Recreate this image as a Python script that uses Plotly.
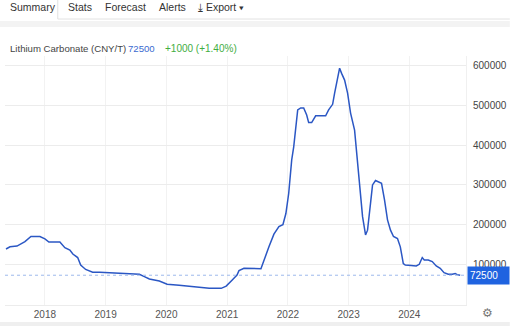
import plotly.graph_objects as go

dates = ["2017-05-12","2017-06-05","2017-07-17","2017-09-03","2017-10-09","2017-12-02","2018-01-01",
         "2018-01-25","2018-04-01","2018-05-01","2018-05-31","2018-06-18","2018-07-17","2018-08-04",
         "2018-09-03","2018-10-15","2018-11-26","2019-01-25","2019-03-14","2019-05-24","2019-07-23",
         "2019-08-22","2019-09-21","2019-11-20","2020-01-06","2020-03-18","2020-06-17","2020-09-15",
         "2020-11-26","2020-12-26","2021-01-30","2021-03-01","2021-03-13","2021-04-12","2021-07-23",
         "2021-08-10","2021-09-09","2021-10-09","2021-11-08","2021-12-02","2021-12-20","2022-01-06",
         "2022-01-24","2022-02-05","2022-02-17","2022-03-01","2022-03-19","2022-04-06","2022-04-24",
         "2022-05-06","2022-05-24","2022-06-17","2022-07-05","2022-08-16","2022-09-03","2022-09-27",
         "2022-10-09","2022-10-27","2022-11-08","2022-11-20","2022-12-08","2022-12-26","2023-01-13",
         "2023-02-06","2023-02-18","2023-03-08","2023-03-26","2023-04-13","2023-04-25","2023-05-13",
         "2023-05-25","2023-06-12","2023-06-30","2023-07-18","2023-08-05","2023-08-23","2023-09-10",
         "2023-09-28","2023-10-22","2023-11-08","2023-11-26","2023-12-08","2024-01-12","2024-02-12",
         "2024-03-01","2024-03-13","2024-03-19","2024-03-31","2024-04-24","2024-05-18","2024-06-11",
         "2024-07-05","2024-07-28","2024-08-22","2024-09-15","2024-10-03","2024-10-15","2024-11-02"]
prices = [138500,144000,146000,157000,170000,170000,164000,
          156000,156000,142000,136000,126000,117000,98000,
          87000,80000,80000,79000,77000,76000,75000,
          69000,63000,58000,50000,47000,43000,39500,
          39500,45000,60000,73000,84000,90000,89000,
          111000,144000,176000,195000,200000,228000,279000,
          363000,396000,447000,489000,494000,494000,476000,
          457000,457000,474000,474000,474000,489000,503000,
          531000,564000,594000,581000,564000,531000,481000,
          438000,380000,295000,220000,174000,186000,254000,
          300000,311000,308000,304000,262000,212000,186000,
          170000,165000,144000,102000,98000,97000,96000,
          100000,115000,117000,111000,111000,107000,96000,
          90000,79000,75000,75000,77000,74000,72500]

y_ticks = [100000, 200000, 300000, 400000, 500000, 600000]
last_value = 72500
title_name = "Lithium Carbonate (CNY/T)"
title_value = "72500"
title_change = "+1000 (+1.40%)"
tabs = ["Summary", "Stats", "Forecast", "Alerts", "⤓ Export ▾"]
tab_x = [8, 66, 103, 158, 197]

W, H = 512, 326
L, R, T, B = 5, 44, 56, 21
PW, PH = W - L - R, H - T - B

def px(x):
    return (x - L) / PW

def py(y):
    return (H - B - y) / PH

FONT = "Liberation Sans, Arial, sans-serif"

fig = go.Figure()
fig.add_trace(go.Scatter(x=dates, y=prices, mode="lines",
                         line=dict(color="#2b57c4", width=1.5), hoverinfo="skip"))

fig.add_shape(type="line", xref="paper", yref="y", x0=0, x1=1, y0=last_value, y1=last_value,
              line=dict(color="#9db9ec", width=1, dash="dot"))

annotations = []
# title
annotations.append(dict(x=px(8), y=py(48), xref="paper", yref="paper", xanchor="left", yanchor="middle",
                        showarrow=False, text=title_name, font=dict(family=FONT, size=9.6, color="#444")))
annotations.append(dict(x=px(127), y=py(48), xref="paper", yref="paper", xanchor="left", yanchor="middle",
                        showarrow=False, text=title_value, font=dict(family=FONT, size=9.6, color="#3a6ad0")))
annotations.append(dict(x=px(164), y=py(48), xref="paper", yref="paper", xanchor="left", yanchor="middle",
                        showarrow=False, text=title_change, font=dict(family=FONT, size=10, color="#3fae3f")))
# tabs
for t, x in zip(tabs, tab_x):
    annotations.append(dict(x=px(x), y=py(7), xref="paper", yref="paper", xanchor="left", yanchor="middle",
                            showarrow=False, text=t, font=dict(family=FONT, size=10.5, color="#333")))
# last value box
annotations.append(dict(x=px(469), y=last_value, xref="paper", yref="y", xanchor="left", yanchor="middle",
                        showarrow=False, text=str(last_value), align="left", width=37, height=13,
                        bgcolor="#1f63e0", borderpad=2,
                        font=dict(family=FONT, size=10, color="white")))
# gear
annotations.append(dict(x=px(490), y=py(313), xref="paper", yref="paper", xanchor="center", yanchor="middle",
                        showarrow=False, text="⚙", font=dict(family="DejaVu Sans", size=12, color="#777")))

shapes = [
    # tab borders
    dict(type="line", xref="paper", yref="paper", x0=px(58), x1=px(58), y0=py(0), y1=py(19),
         line=dict(color="#e2e2e2", width=1)),
    dict(type="line", xref="paper", yref="paper", x0=px(58), x1=px(512), y0=py(19), y1=py(19),
         line=dict(color="#e2e2e2", width=1)),
    dict(type="rect", xref="paper", yref="paper", x0=px(0), x1=px(512), y0=py(27), y1=py(21),
         line=dict(width=0), fillcolor="#f3f3f3", layer="below"),
    dict(type="rect", xref="paper", yref="paper", x0=px(0), x1=px(512), y0=py(326), y1=py(322),
         line=dict(width=0), fillcolor="#efefef", layer="below"),
]
for s in shapes:
    fig.add_shape(**s)

fig.update_layout(
    width=W, height=H, margin=dict(l=L, r=R, t=T, b=B),
    paper_bgcolor="white", plot_bgcolor="white", showlegend=False,
    annotations=annotations,
    font=dict(family=FONT),
    xaxis=dict(range=["2017-05-06", "2024-12-07"], tick0="2018-01-01", dtick="M12", tickformat="%Y",
               showgrid=True, gridcolor="#f2f2f2", gridwidth=1, zeroline=False,
               showline=True, linecolor="#ececec", linewidth=1,
               tickfont=dict(family=FONT, size=10, color="#555"), ticks="", fixedrange=True),
    yaxis=dict(range=[-2500, 624700], side="right", tickvals=y_ticks,
               ticktext=[str(v) for v in y_ticks], showgrid=True, gridcolor="#ececec", gridwidth=1,
               zeroline=False, showline=True, linecolor="#f0f0f0", linewidth=1,
               tickfont=dict(family=FONT, size=10, color="#444"), ticks="", ticklabelstandoff=4),
)

fig.write_html("out.html")
